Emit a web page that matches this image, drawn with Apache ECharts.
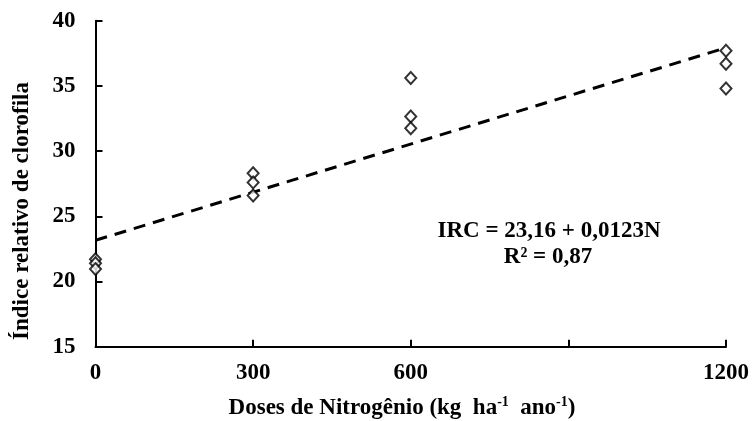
<!DOCTYPE html>
<html>
<head>
<meta charset="utf-8">
<script src="https://cdn.jsdelivr.net/npm/echarts@6/dist/echarts.min.js"></script>
<style>html,body{margin:0;padding:0;background:#fff;}#c{width:752px;height:421px;}</style>
</head>
<body>
<div id="c"></div>
<script>
// Data
const doses = [0, 0, 0, 300, 300, 300, 600, 600, 600, 1200, 1200, 1200];
const irc   = [21.7, 21.4, 20.95, 28.3, 27.6, 26.6, 35.6, 32.65, 31.75, 37.7, 36.7, 34.8];
const xTicks = [0, 300, 600, 1200];
const yTicks = [15, 20, 25, 30, 35, 40];
const intercept = 23.16;
const slope = 0.0123;
const trendX = [0, 1200];

const font = '"Liberation Serif", "Times New Roman", serif';
const chart = echarts.init(document.getElementById('c'), null, {renderer: 'canvas'});
const scatterData = doses.map((d, i) => [d, irc[i]]);
const trendData = trendX.map(x => [x, intercept + slope * x]);

chart.setOption({
  animation: false,
  backgroundColor: '#fff',
  grid: {left: 95.5, right: 23, top: 20.7, bottom: 74.3, containLabel: false},
  xAxis: {
    type: 'value', min: 0, max: 1200, interval: 300,
    axisLine: {show: true, lineStyle: {color: '#000', width: 2}},
    axisTick: {show: true, inside: true, length: 7, lineStyle: {color: '#000', width: 2}},
    splitLine: {show: false},
    axisLabel: {
      color: '#000', fontFamily: font, fontWeight: 'bold', fontSize: 23, margin: 15,
      formatter: v => xTicks.indexOf(v) >= 0 ? String(v) : ''
    }
  },
  yAxis: {
    type: 'value', min: 15, max: 40, interval: 5,
    axisLine: {show: true, lineStyle: {color: '#000', width: 2}},
    axisTick: {show: true, inside: true, length: 7, lineStyle: {color: '#000', width: 2}},
    splitLine: {show: false},
    axisLabel: {
      color: '#000', fontFamily: font, fontWeight: 'bold', fontSize: 23, margin: 20,
      formatter: v => yTicks.indexOf(v) >= 0 ? String(v) : ''
    }
  },
  series: [
    {
      type: 'line', data: trendData, symbol: 'none', silent: true, z: 1,
      lineStyle: {color: '#000', width: 3, type: [12, 8]}
    },
    {
      type: 'scatter', data: scatterData, symbol: 'diamond', symbolSize: [11, 12], z: 3,
      itemStyle: {color: '#fff', borderColor: '#000', borderWidth: 2}
    }
  ],
  graphic: [
    {
      type: 'text', x: 402, y: 408,
      style: {
        text: '{m|Doses de Nitrogênio (kg  ha}{s|-1}{m|  ano}{s|-1}{m|)}',
        align: 'center', verticalAlign: 'middle',
        rich: {
          m: {fontFamily: font, fontWeight: 'bold', fontSize: 23, fill: '#000', lineHeight: 26},
          s: {fontFamily: font, fontWeight: 'bold', fontSize: 14, fill: '#000', verticalAlign: 'top', lineHeight: 26}
        }
      }
    },
    {
      type: 'text', x: 22, y: 211, rotation: Math.PI / 2,
      style: {
        text: 'Índice relativo de clorofila', align: 'center', verticalAlign: 'middle',
        fontFamily: font, fontWeight: 'bold', fontSize: 23, fill: '#000'
      }
    },
    {
      type: 'text', x: 549, y: 231,
      style: {
        text: 'IRC = 23,16 + 0,0123N', align: 'center', verticalAlign: 'middle',
        fontFamily: font, fontWeight: 'bold', fontSize: 23, fill: '#000'
      }
    },
    {
      type: 'text', x: 548, y: 257,
      style: {
        text: 'R² = 0,87', align: 'center', verticalAlign: 'middle',
        fontFamily: font, fontWeight: 'bold', fontSize: 23, fill: '#000'
      }
    }
  ]
});
</script>
</body>
</html>
